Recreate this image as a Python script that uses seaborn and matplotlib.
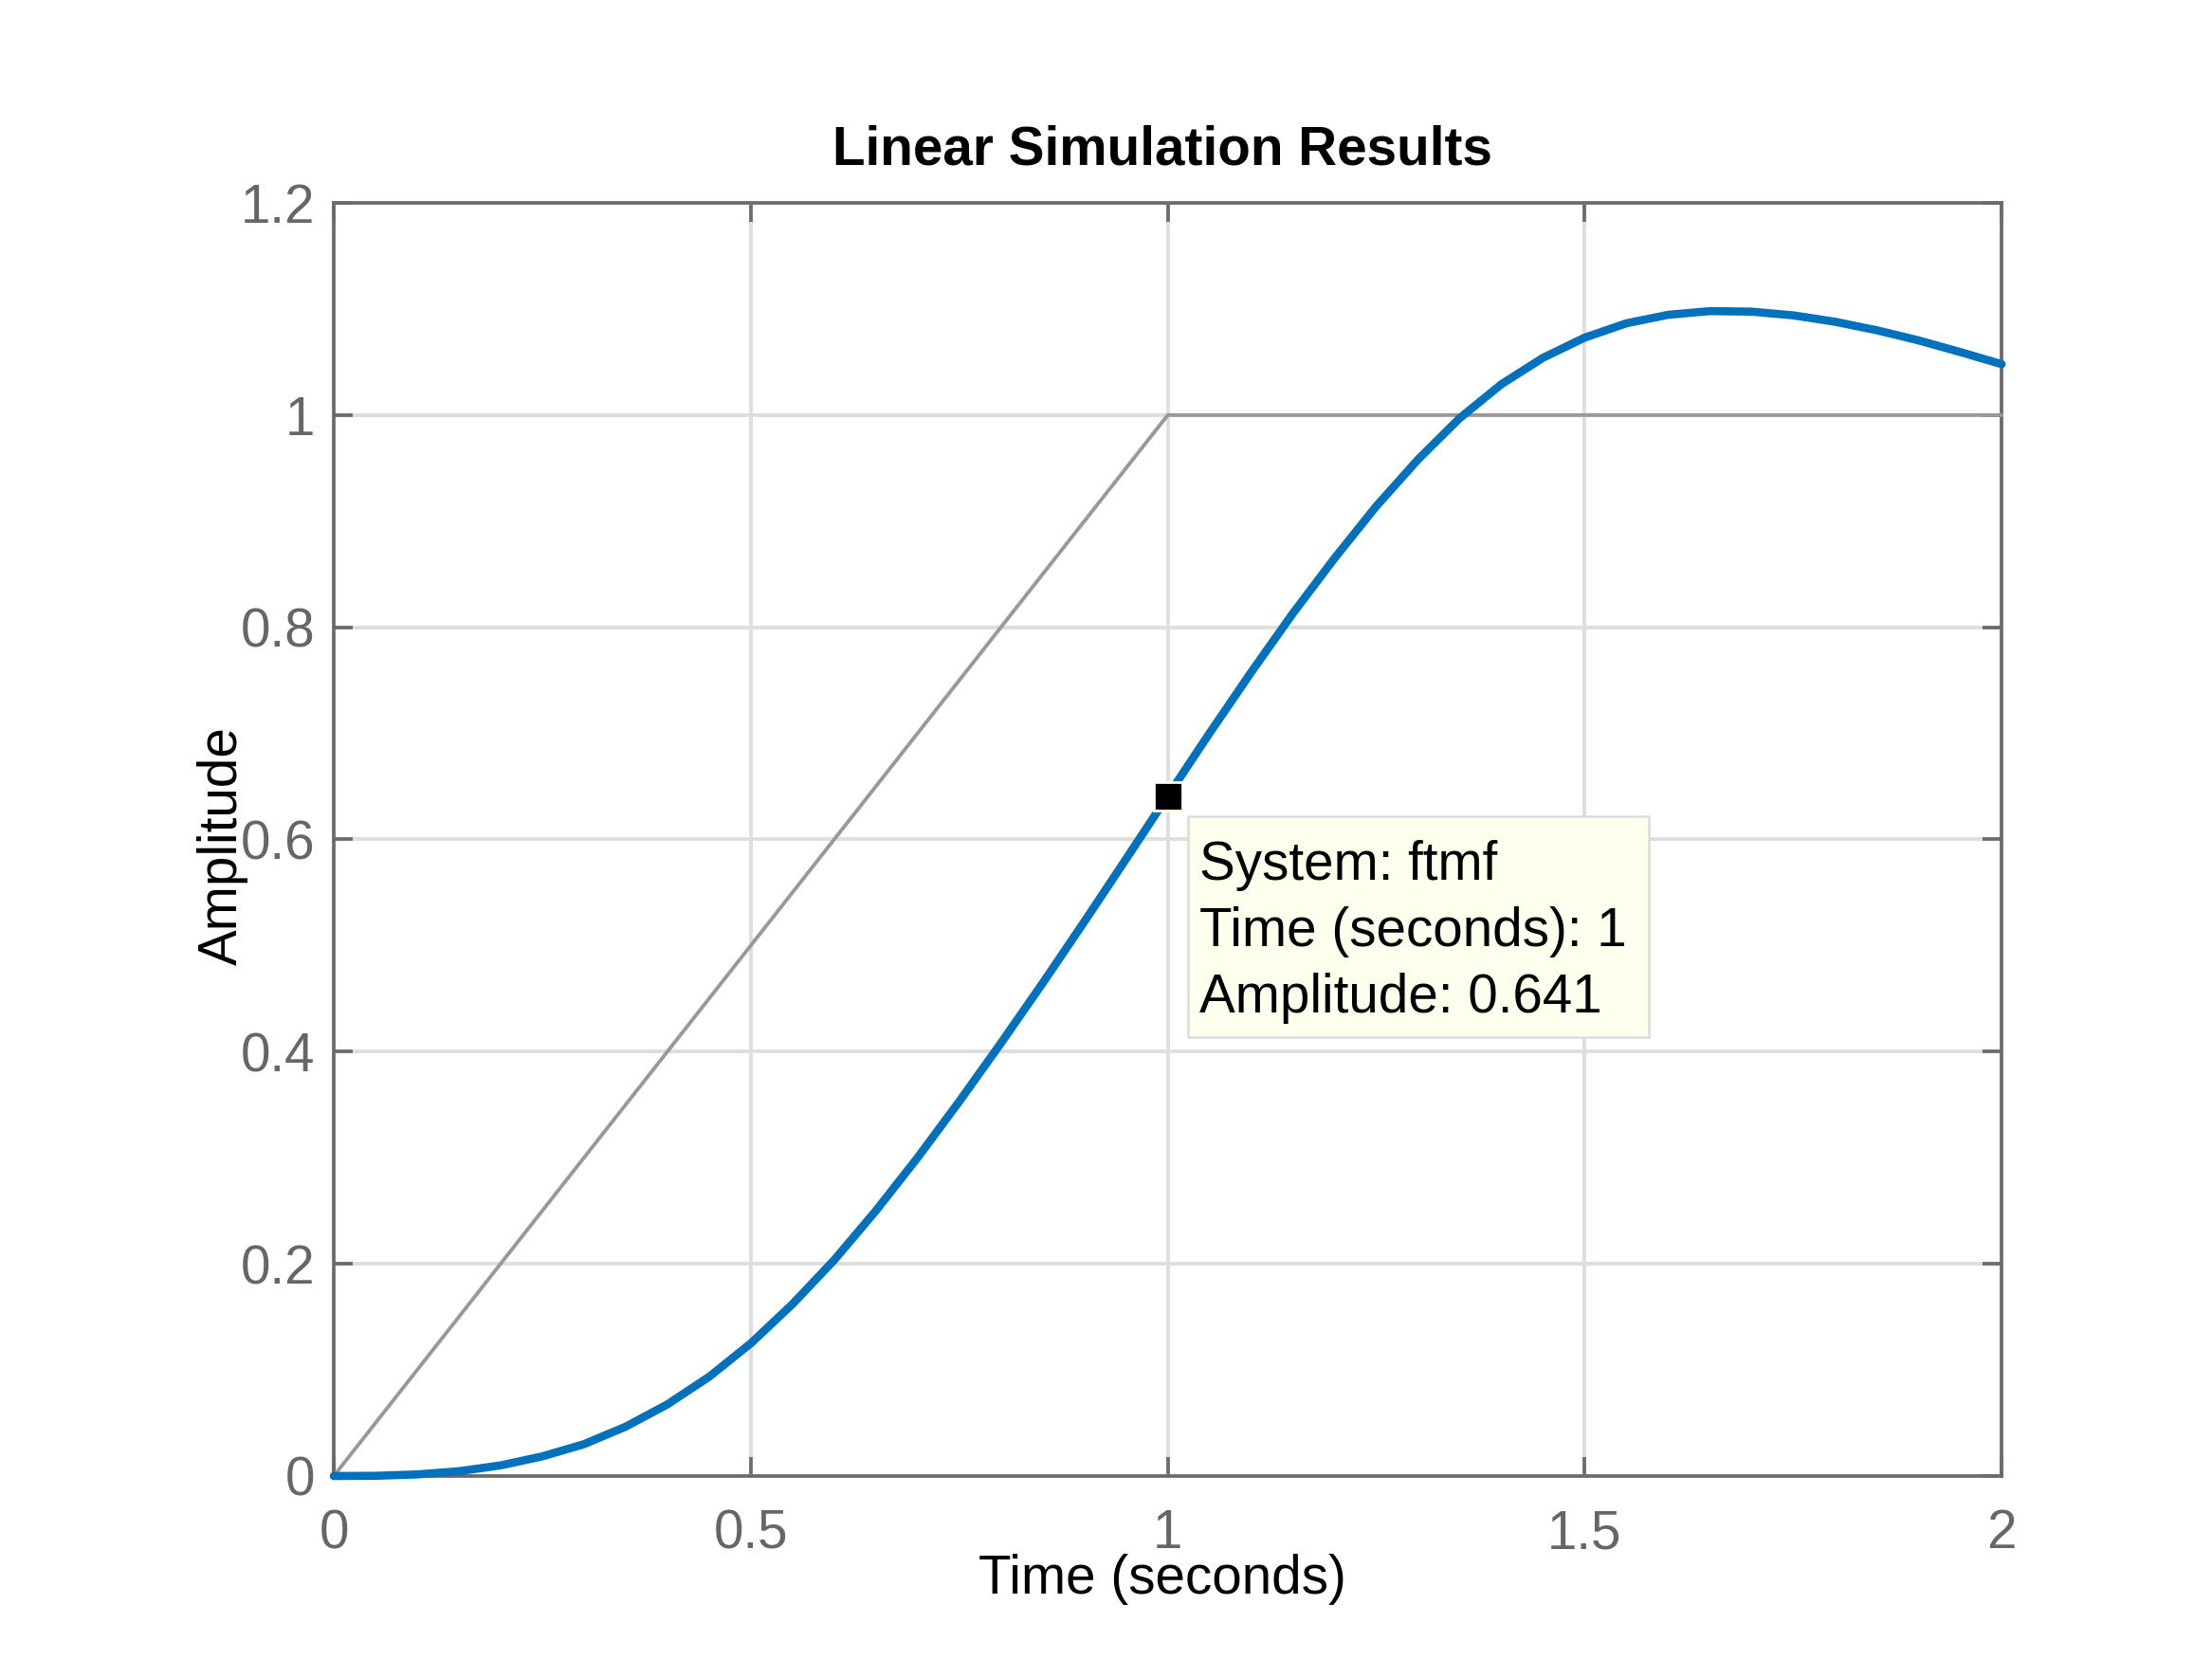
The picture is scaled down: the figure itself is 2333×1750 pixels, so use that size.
import numpy as np
import pandas as pd
import matplotlib
matplotlib.use("Agg")
import matplotlib.pyplot as plt
import matplotlib.transforms as mtransforms
from matplotlib.patches import Rectangle
import seaborn as sns

# ---- data ----
time_s = [0.00, 0.05, 0.10, 0.15, 0.20, 0.25, 0.30, 0.35, 0.40, 0.45,
          0.50, 0.55, 0.60, 0.65, 0.70, 0.75, 0.80, 0.85, 0.90, 0.95,
          1.00, 1.05, 1.10, 1.15, 1.20, 1.25, 1.30, 1.35, 1.40, 1.45,
          1.50, 1.55, 1.60, 1.65, 1.70, 1.75, 1.80, 1.85, 1.90, 1.95, 2.00]
amplitude = [0.0000, 0.0002, 0.0015, 0.0045, 0.0100, 0.0185, 0.0300, 0.0465, 0.0675, 0.0935,
             0.1250, 0.1620, 0.2035, 0.2500, 0.3000, 0.3530, 0.4080, 0.4645, 0.5225, 0.5815,
             0.6410, 0.7000, 0.7575, 0.8130, 0.8650, 0.9140, 0.9580, 0.9970, 1.0290, 1.0540,
             1.0730, 1.0865, 1.0945, 1.0980, 1.0975, 1.0940, 1.0880, 1.0800, 1.0705, 1.0595, 1.0480]
input_time = [0.0, 1.0, 2.0]
input_value = [0.0, 1.0, 1.0]
tip_time = 1.0
tip_amp = 0.641
x_ticks = [0, 0.5, 1, 1.5, 2]
x_tick_labels = ["0", "0.5", "1", "1.5", "2"]
y_ticks = [0, 0.2, 0.4, 0.6, 0.8, 1.0, 1.2]
y_tick_labels = ["0", "0.2", "0.4", "0.6", "0.8", "1", "1.2"]
tip_lines = ["System: ftmf", "Time (seconds): 1", "Amplitude: 0.641"]

resp = pd.DataFrame({"t": time_s, "y": amplitude})
inp = pd.DataFrame({"t": input_time, "u": input_value})

sns.set_theme(style="white")
plt.rcParams["font.family"] = ["Liberation Sans", "DejaVu Sans"]

FS = 20.4
AX_GRAY = "#6b6b6b"

fig = plt.figure(figsize=(11.665, 8.75), dpi=200)
ax = fig.add_axes([0.1509, 0.1103, 0.7540, 0.7674])

ax.grid(True, color="#dedede", lw=1.4)
ax.set_axisbelow(True)

sns.lineplot(data=inp, x="t", y="u", ax=ax, color="#999999", lw=1.4,
             estimator=None, sort=False, zorder=3)
sns.lineplot(data=resp, x="t", y="y", ax=ax, color="#0072BD", lw=3.1,
             estimator=None, sort=False, zorder=4)
for ln in ax.lines:
    ln.set_clip_on(False)
    ln.set_solid_joinstyle("round")

ax.set_xlim(0, 2)
ax.set_ylim(0, 1.2)
ax.set_xticks(x_ticks)
ax.set_xticklabels(x_tick_labels)
ax.set_yticks(y_ticks)
ax.set_yticklabels(y_tick_labels)

for s in ax.spines.values():
    s.set_visible(True)
    s.set_color(AX_GRAY)
    s.set_linewidth(1.35)
    s.set_zorder(2.5)

ax.tick_params(axis="both", which="both", direction="in", length=7.2, width=1.35,
               color=AX_GRAY, labelcolor="#666666", labelsize=FS,
               top=True, right=True, bottom=True, left=True)
ax.tick_params(axis="x", pad=12.4)
ax.tick_params(axis="y", pad=7)

ax.set_xlabel("Time (seconds)", fontsize=FS, color="black")
ax.xaxis.set_label_coords(0.497, -0.0923)
ax.xaxis.label.set_va("baseline")
ax.set_ylabel("Amplitude", fontsize=FS, color="black")
ax.yaxis.set_label_coords(-0.0665, 0.495)
ax.yaxis.label.set_va("center")

ax.set_title("Linear Simulation Results", fontsize=FS, fontweight="bold",
             color="black", x=0.497, y=1.0305, va="baseline", pad=0)

# ---- data tip ----
anchor = mtransforms.ScaledTranslation(tip_time, tip_amp, ax.transData)
box_trans = fig.dpi_scale_trans + anchor
box = Rectangle((0.105, -1.27), 2.43, 1.165, transform=box_trans,
                facecolor="#FFFFEE", edgecolor="#dcdcdc", lw=0.9, zorder=6,
                clip_on=False)
ax.add_artist(box)

ax.plot([tip_time], [tip_amp], marker="s", ms=10.8, mfc="black", mec="#FFFFEE",
        mew=1.0, ls="none", zorder=7, clip_on=False)

baselines_pt = [-31.7, -56.9, -82.1]
for txt, dy in zip(tip_lines, baselines_pt):
    ax.annotate(txt, xy=(tip_time, tip_amp), xytext=(11.9, dy),
                textcoords="offset points", ha="left", va="baseline",
                fontsize=FS, color="black", zorder=8, annotation_clip=False)

fig.savefig("out.png", dpi=200)
